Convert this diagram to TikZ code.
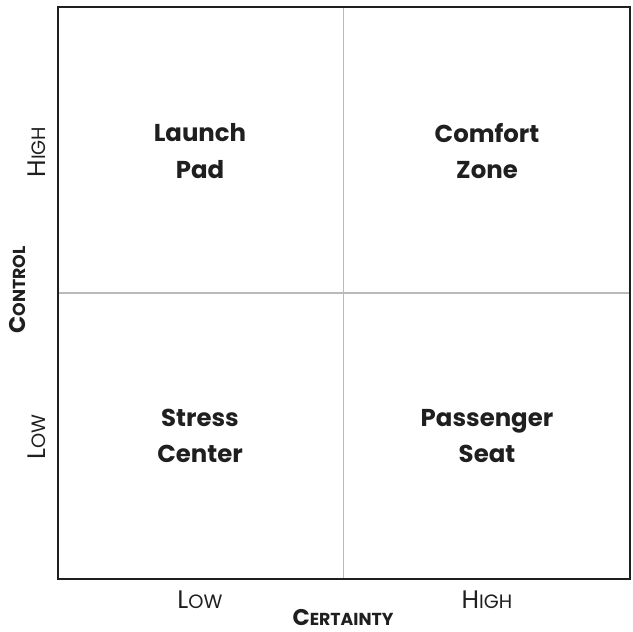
\documentclass[tikz,border=0pt]{standalone}
\usepackage{fontspec}
\setmainfont{Poppins}
\begin{document}
\begin{tikzpicture}[x=0.75pt,y=-0.75pt,
  quad/.style={font=\fontsize{18.3}{27.5}\selectfont\bfseries, align=center, text=black!88},
  axlab/.style={font=\fontsize{19}{22}\selectfont, text=black!88, inner sep=0pt},
  axtitle/.style={font=\fontsize{17}{20}\selectfont\bfseries, text=black!88, inner sep=0pt},
  frame/.style={draw=black!88, line width=2.2pt},
  divider/.style={draw=black!27, line width=1.4pt}]
\newcommand{\smc}[2]{#1{\fontsize{14.5}{17}\selectfont #2}}
\newcommand{\smcb}[2]{#1{\fontsize{13}{16}\selectfont #2}}
\useasboundingbox (0,0) rectangle (633,632);
\coordinate (tl) at (58,7);
\coordinate (br) at (630,579);
\coordinate (mt) at (343.5,7);
\coordinate (mb) at (343.5,579);
\coordinate (ml) at (58,293);
\coordinate (mr) at (630,293);
\draw[divider] (mt) -- (mb);
\draw[divider] (ml) -- (mr);
\draw[frame] (tl) rectangle (br);
\node[quad] (lp) at (200,151) {Launch\\Pad};
\node[quad] (cz) at (487,151) {Comfort\\Zone};
\node[quad] (sc) at (200,436) {Stress\\Center};
\node[quad] (ps) at (487,436) {Passenger\\Seat};
\node[axlab, rotate=90] (yh) at (37,152) {\smc{H}{IGH}};
\node[axlab, rotate=90] (yl) at (37,437) {\smc{L}{OW}};
\node[axtitle, rotate=90] (yt) at (18,290) {\smcb{C}{ONTROL}};
\node[axlab] (xl) at (200,600) {\smc{L}{OW}};
\node[axlab] (xh) at (487,600) {\smc{H}{IGH}};
\node[axtitle] (xt) at (343,618) {\smcb{C}{ERTAINTY}};
\end{tikzpicture}
\end{document}
